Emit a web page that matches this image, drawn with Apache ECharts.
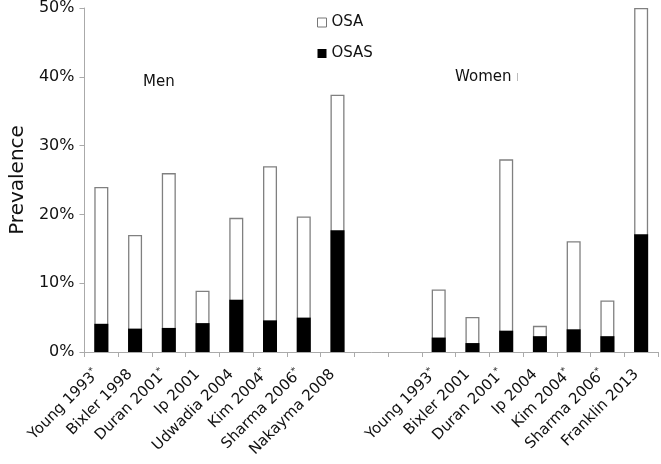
<!DOCTYPE html>
<html>
<head>
<meta charset="utf-8">
<script src="https://cdn.jsdelivr.net/npm/echarts@6/dist/echarts.min.js"></script>
<style>html,body{margin:0;padding:0;background:#fff}#c{width:661px;height:464px}</style>
</head>
<body>
<div id="c"></div>
<script>
var categories = ['Young 1993*','Bixler 1998','Duran 2001*','Ip 2001','Udwadia 2004','Kim 2004*','Sharma 2006*','Nakayma 2008','','',
                  'Young 1993*','Bixler 2001','Duran 2001*','Ip 2004','Kim 2004*','Sharma 2006*','Franklin 2013'];
var osaValues  = [24, 17, 26, 8.9, 19.5, 27, 19.7, 37.4, null, null, 9.1, 5.1, 28, 3.8, 16.1, 7.5, 50];
var osasValues = [4.1, 3.4, 3.5, 4.2, 7.6, 4.6, 5.0, 17.7, null, null, 2.1, 1.3, 3.1, 2.3, 3.3, 2.3, 17.1];
var yTicks = [0, 10, 20, 30, 40, 50];
var groupLabels = ['Men', 'Women'];

var FONT = '"DejaVu Sans", "Liberation Sans", Arial, sans-serif';
var chart = echarts.init(document.getElementById('c'), null, {renderer: 'canvas'});
chart.setOption({
  animation: false,
  backgroundColor: '#fff',
  textStyle: {fontFamily: FONT, color: '#111'},
  grid: {left: 78, right: 3, top: 7, bottom: 112, containLabel: false},
  legend: {
    orient: 'vertical', left: 312, top: 10, itemGap: 16, itemWidth: 9, itemHeight: 9,
    icon: 'rect',
    textStyle: {fontFamily: FONT, fontSize: 15, color: '#111'},
    data: [
      {name: 'OSA', itemStyle: {color: '#fff', borderColor: '#777', borderWidth: 1}},
      {name: 'OSAS', itemStyle: {color: '#000'}}
    ]
  },
  xAxis: {
    type: 'category', data: categories, boundaryGap: true,
    axisLine: {lineStyle: {color: '#aaa', width: 1}},
    axisTick: {show: true, length: 5, lineStyle: {color: '#aaa'}, interval: 0},
    axisLabel: {
      interval: 0, rotate: 45, margin: 15, fontFamily: FONT, fontSize: 15, color: '#111',
      padding: [0, 7, 0, 0],
      formatter: function (v) { return v.replace('*', '{sup|*}'); },
      rich: {sup: {fontSize: 9, fontFamily: FONT, color: '#111', padding: [0, 0, 8, 0]}}
    }
  },
  yAxis: {
    type: 'value', min: 0, max: 50, interval: 10,
    name: 'Prevalence', nameLocation: 'middle', nameGap: 52, nameRotate: 90,
    nameTextStyle: {fontFamily: FONT, fontSize: 20, color: '#111'},
    axisLine: {show: true, lineStyle: {color: '#aaa', width: 1}},
    axisTick: {show: true, length: 5, lineStyle: {color: '#aaa'}},
    splitLine: {show: false},
    axisLabel: {fontFamily: FONT, fontSize: 16, color: '#111', margin: 10,
      formatter: function (v) { return yTicks.indexOf(v) >= 0 ? v + '%' : ''; }}
  },
  graphic: [
    {type: 'text', left: 143, top: 75, style: {text: groupLabels[0], fontFamily: FONT, fontSize: 15, fill: '#111'}},
    {type: 'text', left: 455, top: 70, style: {text: groupLabels[1], fontFamily: FONT, fontSize: 15, fill: '#111'}},
    {type: 'line', shape: {x1: 517.5, y1: 73, x2: 517.5, y2: 81}, style: {stroke: '#bbb', lineWidth: 1}}
  ],
  series: [
    {
      name: 'OSA', type: 'bar', data: osaValues, barWidth: 14, barGap: '-100%',
      itemStyle: {color: '#fff', borderColor: '#808080', borderWidth: 1.3}
    },
    {
      name: 'OSAS', type: 'bar', data: osasValues, barWidth: 14, barGap: '-100%',
      itemStyle: {color: '#000', borderColor: '#000', borderWidth: 0}
    }
  ]
});
</script>
</body>
</html>
